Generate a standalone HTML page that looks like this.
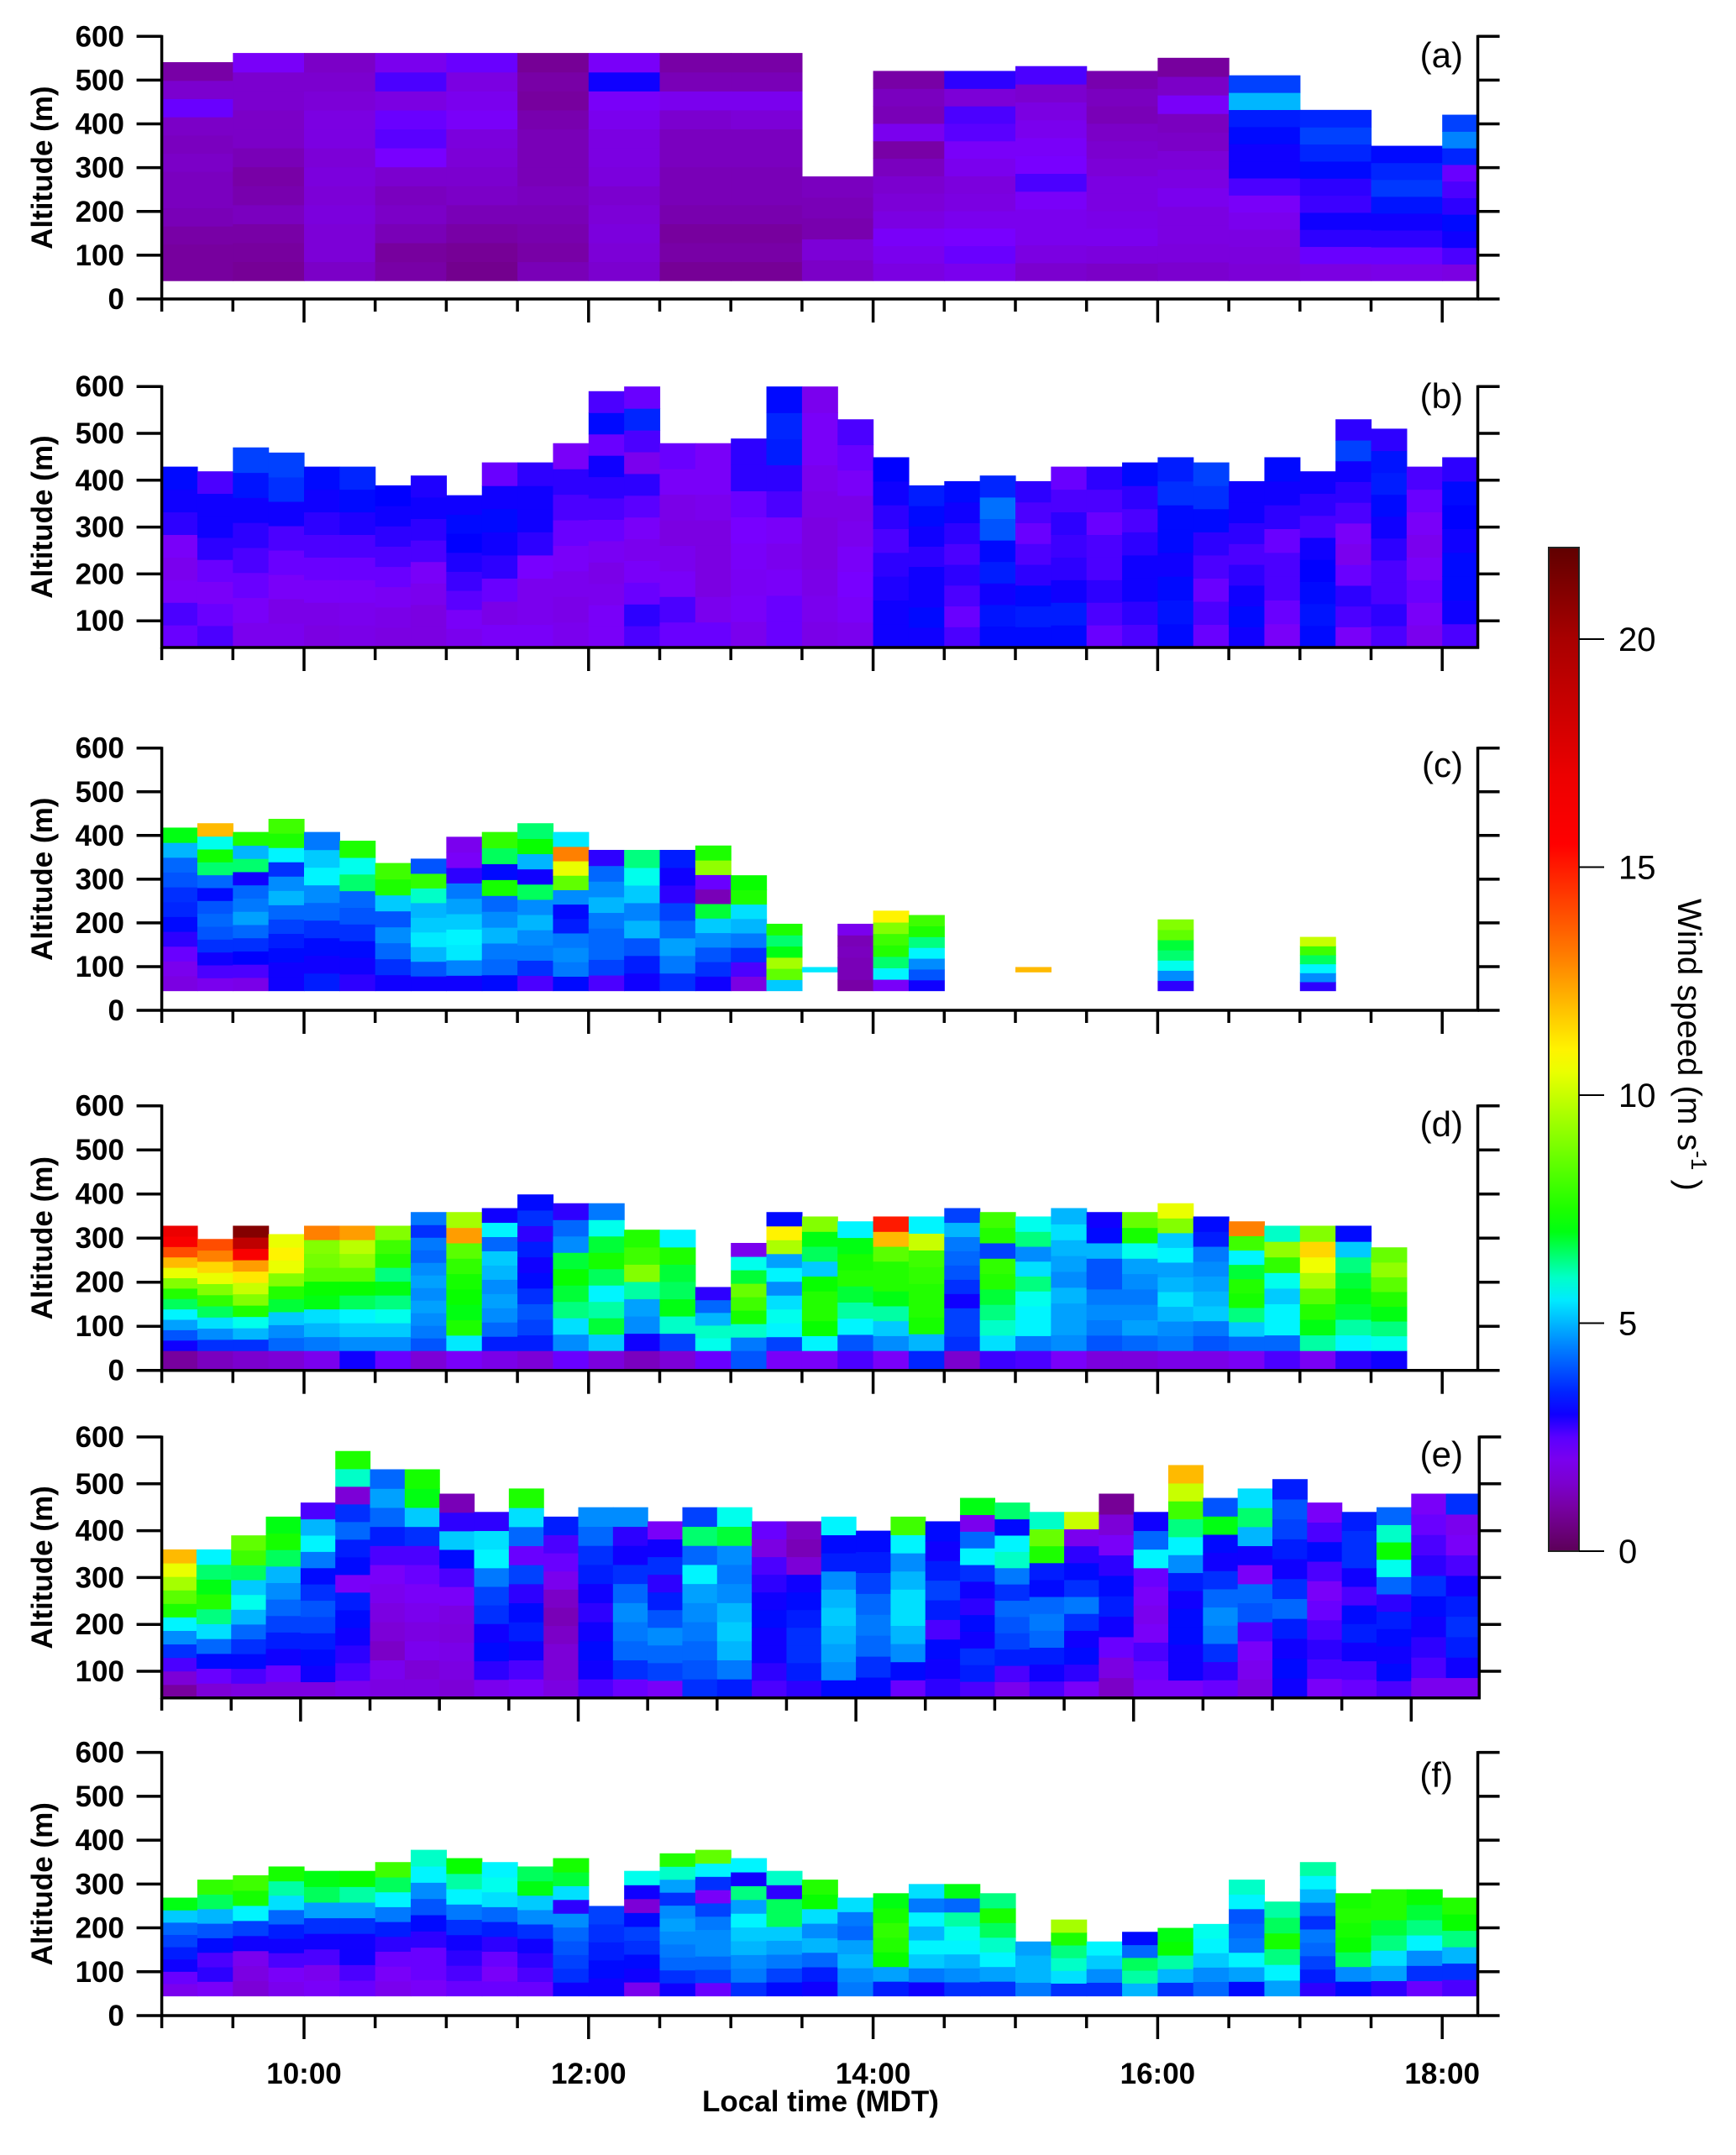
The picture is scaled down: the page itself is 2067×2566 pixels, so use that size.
<!DOCTYPE html>
<html><head><meta charset="utf-8"><title>Wind speed profiles</title>
<style>
html,body{margin:0;padding:0;background:#fff;}
svg{display:block;font-family:"Liberation Sans",Arial,sans-serif;}
</style></head>
<body>
<svg id="chart" xmlns="http://www.w3.org/2000/svg" width="2067" height="2566" viewBox="0 0 2067 2566">
<defs><linearGradient id="cbgrad" x1="0" y1="1" x2="0" y2="0"></linearGradient></defs>
</svg>
<script>
// ---------- DATA ----------
const altTicks = [0,100,200,300,400,500,600];
const timeTickLabels = ["10:00","12:00","14:00","16:00","18:00"];
const colorbarTicks = [0,5,10,15,20];

// Panel (a): 30-min columns from 9:00
const aTops = [541,562,562,562,562,562,562,562,562,280,521,521,532,521,551,511,432,350,421];
const aVals = [
[0.9,0.9,1.0,1.2,1.3,1.3,1.4,1.3,1.4,2.4,1.5,1.0],[0.8,0.9,1.0,1.3,1.1,1.0,1.2,1.4,1.4,1.5,1.5,2.2],
[1.4,1.6,1.6,1.7,1.6,1.7,1.6,1.8,1.8,1.6,1.5,1.4],[1.0,0.9,1.2,1.4,1.3,1.5,2.3,2.5,2.4,1.8,2.6,2.0],
[0.7,0.8,1.0,1.2,1.4,1.5,1.6,1.7,2.2,2.0,1.8,2.4],[1.2,1.0,1.1,1.2,1.3,1.2,1.2,1.2,1.1,0.9,1.0,0.8],
[1.5,1.6,1.7,1.6,1.5,1.7,1.8,1.8,2.0,2.2,3.0,2.2],[0.8,1.0,0.9,1.1,1.2,1.2,1.3,1.3,1.5,2.0,1.2,1.0],
[0.8,1.0,0.9,1.1,1.2,1.2,1.3,1.3,1.6,2.0,1.2,1.0],[1.4,1.6,1.1,1.2,1.3],
[1.8,2.0,2.2,1.8,1.6,1.5,1.3,1.0,2.0,1.2,1.3,1.0],[2.0,2.4,2.3,2.0,1.8,1.7,2.0,2.2,2.5,2.6,1.6,2.8],
[1.5,1.8,2.0,2.0,2.2,2.6,2.3,2.2,2.0,1.8,1.5,2.6],[1.4,1.7,2.0,1.9,1.8,1.8,1.6,1.5,1.4,1.2,1.3,1.1],
[1.5,1.7,1.8,1.8,2.0,1.8,1.6,1.4,1.3,2.2,1.4,0.9],[1.6,1.7,1.8,2.0,2.2,2.6,3.0,3.0,3.2,3.4,5.0,3.8],
[1.8,2.4,2.8,3.0,2.7,2.8,3.2,3.5,3.8,3.5],[1.9,2.4,2.8,3.0,3.3,3.7,3.5,3.2],
[1.8,2.6,3.0,3.2,2.8,2.6,2.4,3.5,4.5,3.8]];

// Panel (b): 15-min columns from 9:00
const bTops = [429,419,470,459,429,429,389,410,368,438,438,479,590,600,479,479,489,600,600,530,449,389,398,410,398,429,429,438,449,438,398,449,419,530,510,429,449];
const bVals = [
[2.4,2.6,2.2,2.0,2.2,2.8,3.0,3.2],[2.6,2.4,2.2,2.4,2.8,3.0,3.0,2.6],[2.0,2.2,2.4,2.6,2.8,3.0,3.3,3.8],
[2.0,1.9,2.2,2.4,2.6,3.0,3.6,3.8],[1.8,1.9,2.2,2.4,2.6,2.8,3.0,3.2],[1.9,2.0,2.2,2.4,2.6,2.9,3.2,3.5],
[1.8,1.9,2.1,2.4,2.6,2.8,3.0,3.1],[1.8,1.8,2.0,2.2,2.6,2.8,3.0,2.9],[2.0,2.2,2.5,2.7,2.9,3.1,3.2,3.0],
[2.2,1.9,2.4,2.8,3.0,3.2,3.0,2.4],[2.2,2.0,2.0,2.3,2.8,3.0,3.0,2.8],[2.0,1.9,2.0,2.2,2.4,2.6,2.8,2.2],
[2.2,2.2,2.0,1.9,2.1,2.4,2.6,2.8,3.0,2.4,3.2,2.6],[2.6,2.8,2.4,2.2,2.0,2.2,2.5,2.8,2.0,2.6,3.5,2.4],
[2.4,2.6,2.2,2.0,1.8,1.9,2.2,2.4],[2.4,2.0,1.8,1.8,1.8,2.0,2.2,2.2],[2.0,2.2,2.1,2.2,2.3,2.4,2.8,2.8],
[2.4,2.4,2.2,2.0,2.2,2.6,2.8,3.4,3.5,3.2],[1.9,2.0,1.9,1.8,1.8,1.9,2.0,2.2,2.2,2.0],
[2.0,2.2,2.3,2.2,2.0,1.9,2.2,2.4,2.6],[3.0,3.0,2.9,2.8,2.6,2.8,3.0,3.1],[3.0,3.2,3.0,3.0,2.8,3.0,3.2,3.4],
[2.6,2.4,2.6,2.8,2.6,2.8,3.0,3.2],[3.2,3.3,3.0,3.4,3.2,4.0,4.3,3.5],[3.2,3.4,3.2,2.8,2.6,2.4,2.6,2.8],
[3.2,3.4,3.0,2.8,2.7,2.8,2.6,2.4],[2.4,2.6,2.8,2.6,2.6,2.4,2.6,2.8],[2.6,2.8,3.0,3.0,2.8,2.6,2.8,3.2],
[3.2,3.3,3.2,3.0,3.2,3.2,3.6,3.4],[2.4,2.6,2.4,2.6,2.8,3.2,3.6,3.8],[3.0,3.2,3.0,2.8,2.6,2.8,3.0,3.0],
[2.2,2.4,2.6,2.6,2.4,2.8,3.0,3.2],[3.2,3.3,3.2,3.1,3.0,2.6,2.8,3.0],[2.2,2.6,2.8,2.4,2.0,2.2,2.6,2.8,3.0,3.8,2.8],
[2.6,2.8,2.6,2.6,2.8,3.0,3.2,3.4,3.3,2.8],[2.0,2.2,2.4,2.2,2.0,2.2,2.4,2.6],[2.6,3.0,3.2,3.2,3.0,3.1,3.2,2.8]];

// Panel (c): 15-min column indices (sparse), bottoms and tops
const cIdx = [0,1,2,3,4,5,6,7,8,9,10,11,12,13,14,15,16,17,18,19,20,21,24,28,32];
const cBottoms = [45,45,45,45,45,45,45,45,45,45,45,45,45,45,45,45,45,45,88,45,45,45,88,45,45];
const cTops = [418,428,408,438,408,388,337,347,397,408,428,408,367,367,367,377,309,198,99,198,228,218,99,208,168];
const cVals = [
[1.8,2.0,2.4,2.8,3.2,3.5,3.6,4.0,4.2,5.0,7.0],[2.0,2.6,3.0,3.6,4.0,4.2,4.0,3.2,4.2,6.5,7.3,5.8,12],
[1.9,2.6,3.1,3.6,4.2,4.8,4.4,4.2,3.0,6.5,5.0,7.5],[3.0,3.0,3.2,3.4,3.8,4.2,5.0,4.6,3.6,5.6,7.5,8.0],
[3.4,3.0,3.2,3.6,4.2,4.6,5.6,5.2,4.4],[2.8,3.0,3.2,3.6,4.0,4.2,6.5,5.8,7.5],
[3.0,3.6,4.2,4.6,4.0,5.2,7.5,8.0],[3.0,4.0,5.0,5.5,5.2,5.0,6.0,7.8,4.0],
[3.0,4.5,5.5,5.6,5.2,4.8,4.4,2.8,2.2,2.0],[3.2,4.2,4.4,5.0,4.6,4.2,7.4,3.2,6.6,7.8],
[2.6,3.6,4.4,4.6,5.0,4.6,6.6,3.0,5.0,7.2,6.5],[3.2,4.4,4.6,4.4,3.4,3.2,4.6,8.5,10.5,13,5.5],
[2.6,3.8,4.2,4.2,4.4,5.0,4.6,4.2,2.8],[3.0,3.4,4.0,5.0,4.5,5.2,5.8,6.4],
[3.6,4.4,4.8,4.2,3.8,2.8,3.0,3.4],[3.0,3.6,4.0,4.6,5.2,6.8,1.2,2.4,9.2,7.5],
[1.8,2.6,3.6,4.4,5.0,5.4,7.5,7.2],[5.2,8.5,9.5,7.0,6.5,7.5],[5.5],[1.0,1.2,1.2,1.3,1.2,2.0],
[2.2,5.6,6.5,7.6,8.0,9.0,11.0],[3.0,4.0,4.6,5.6,6.4,7.5,8.0],[12],
[2.8,4.6,5.8,6.5,6.8,8.5,9.0],[2.8,4.6,5.6,6.6,8.0,10.0]];

// Panel (d): 15-min columns, near-ground band (0-45 m) and profile above
const dBase = [0.9,1.3,1.5,1.6,2.0,3.0,2.4,1.6,2.2,1.9,1.6,2.4,1.7,1.3,1.6,2.4,4.0,2.2,2.2,2.6,2.2,3.5,1.5,2.7,2.6,2.2,1.7,1.7,1.9,1.9,2.1,2.6,2.1,2.8,3.0];
const dTops = [328,298,328,309,328,328,328,359,359,368,399,379,379,319,319,189,289,359,349,338,349,349,368,359,349,368,359,359,379,349,338,328,328,328,279];
const dVals = [
[3.0,4.0,4.8,5.6,6.6,7.6,9.0,10.5,12,14,16,17],[3.6,4.6,5.4,6.6,7.8,9.0,10.5,11.5,13,14],
[3.6,5.0,5.8,7.5,9.0,10.0,11.2,12.5,16,19,21],[4.2,4.6,5.2,6.8,7.6,9.0,10.5,11,10.5],
[4.4,5.0,5.4,7.0,7.2,8.4,8.8,9.0,13],[4.6,5.2,5.6,6.6,7.2,8.4,9.2,9.8,12.5],
[4.6,5.2,5.8,6.4,7.0,6.4,7.6,8.0,9.0],[4.0,4.4,4.6,4.8,4.6,4.8,4.6,4.2,4.4,3.6,4.4],
[5.5,7.5,7.0,7.2,7.4,7.8,8.4,12.5,9.5],[3.4,4.2,4.6,4.8,4.6,5.0,5.2,4.2,5.6,3.0],
[3.4,3.8,4.0,3.6,3.2,3.0,3.4,2.8,3.6,3.2],[4.6,5.4,6.4,6.8,7.2,6.8,4.6,4.2,2.8],
[5.2,6.8,6.2,5.6,6.6,7.4,6.8,5.8,4.4],[3.0,4.6,4.8,6.2,9.0,8.0,7.6],[3.8,6.0,7.0,6.6,6.8,7.5,5.6],
[5.8,6.0,5.0,4.2,2.8],[4.4,6.0,7.4,8.0,8.6,6.8,5.8,2.0],[3.8,5.6,5.8,5.4,4.6,5.6,4.8,9.6,11,3.2],
[5.6,7.2,7.6,7.6,7.2,5.2,6.6,7.0,9.0],[4.0,5.6,6.2,6.8,7.6,7.4,7.0,5.6],
[4.6,5.2,6.2,7.0,7.6,7.6,8.4,12,15],[5.0,7.4,7.6,7.6,7.8,8.0,10,5.6],
[3.6,3.8,3.8,3.0,3.6,4.0,4.2,4.4,5.0,3.8],[5.4,6.0,6.4,6.8,7.6,7.8,3.8,7.6,8.0],
[4.4,5.6,5.6,5.8,6.4,5.4,4.6,6.4,5.8],[4.6,4.8,4.8,5.0,4.6,4.8,5.0,5.4,5.0],
[4.0,4.4,4.6,4.4,4.0,4.0,5.0,3.2,3.0],[4.2,4.8,4.6,4.4,4.6,4.8,5.8,7.4,8.6],
[4.4,4.6,5.0,5.4,5.0,4.8,5.6,5.2,9.0,10.5],[4.0,4.4,5.2,5.0,4.8,4.6,4.4,3.4,3.2],
[4.2,5.2,6.4,7.4,7.6,6.8,5.6,8.0,13],[4.2,5.6,5.6,5.2,5.8,7.8,9.2,6.0],
[6.2,7.0,7.6,8.4,9.6,10.6,11.5,9.0],[5.6,6.2,6.8,7.0,6.8,6.4,5.2,3.2],[5.8,6.4,7.0,7.6,8.4,9.2,8.6]];

// Panel (e): 15-min columns from 9:00 (own time axis)
const eTops = [360,360,390,430,460,570,531,531,479,440,490,430,450,450,420,450,450,420,420,430,400,430,420,470,460,440,440,479,440,540,470,490,510,460,440,450,479,479];
const eVals = [
[0.9,1.6,2.6,3.6,4.6,5.6,7.5,8.4,9.5,10.5,12],[1.6,2.4,3.2,4.2,5.4,6.4,7.6,7.0,6.5,5.6],
[1.8,2.6,3.2,3.6,4.2,5.0,5.8,5.2,6.6,8.0,8.5],[1.8,2.4,3.0,3.4,3.8,4.2,4.6,5.0,6.6,7.4,7.0],
[1.8,3.0,3.2,3.4,3.8,4.0,3.6,3.2,4.4,5.6,5.0,2.6],[2.0,2.6,2.8,3.0,3.2,3.4,2.2,3.2,3.4,4.2,3.6,1.6,6.0,7.5],
[1.8,2.0,1.4,1.6,1.8,2.0,2.2,2.6,3.4,4.2,4.8,4.2],[1.8,1.6,2.0,1.8,2.0,2.2,2.4,2.6,3.6,5.2,7.0,7.4],
[1.6,1.8,1.9,1.7,1.8,2.2,2.6,3.2,5.2,2.8,1.2],[2.0,2.8,3.2,3.0,3.6,3.8,4.4,5.6,5.4,2.8],
[2.2,2.6,3.0,3.4,3.2,2.8,3.8,2.4,4.2,5.4,7.5],[1.8,1.6,1.6,1.4,1.2,1.4,2.0,2.4,2.6,3.4],
[2.6,3.0,3.2,3.0,2.8,3.0,3.4,3.6,4.2,4.6],[2.4,3.6,4.2,4.4,4.6,4.2,3.6,3.0,2.8,4.6],
[2.2,3.8,4.2,4.6,4.0,3.4,2.8,3.6,3.0,2.2],[3.6,4.0,4.2,4.4,4.6,4.8,5.6,4.2,6.5,3.8],
[3.4,4.4,5.0,5.2,5.0,4.6,4.4,4.6,6.8,5.8],[2.6,2.8,3.0,3.0,3.2,3.0,2.8,2.6,1.8,2.4],
[2.8,3.4,3.6,3.6,3.4,3.2,3.0,1.6,1.2,1.4],[3.2,4.6,4.8,5.0,5.2,5.0,4.6,3.4,3.2,5.6],
[3.2,3.6,4.2,4.4,4.2,3.8,3.4,3.2],[2.4,3.2,4.6,5.0,5.4,5.4,5.0,4.6,5.6,8.0],
[2.8,3.0,3.2,2.6,3.4,3.8,3.4,3.0,3.2],[2.6,3.4,3.6,3.0,3.2,2.8,3.0,3.6,5.6,4.2,2.0,7.0],
[2.0,2.6,3.4,3.8,4.0,4.2,3.6,4.4,6.0,5.6,3.2,6.5],[2.6,3.0,3.4,4.2,4.4,4.2,3.2,3.4,7.5,8.6,6.0],
[2.2,2.8,3.2,3.0,3.6,4.4,3.6,3.2,2.8,2.0,10.0],[1.4,1.8,2.4,3.0,3.4,3.2,2.8,2.2,1.6,0.8],
[2.2,2.4,2.6,2.2,2.0,2.2,2.4,5.6,4.2,3.0],[2.2,3.0,3.0,3.2,3.2,3.0,3.4,4.6,5.6,6.4,8.0,10.0,12.0],
[2.4,2.8,3.6,4.4,4.6,4.2,3.6,3.0,3.2,7.0,4.0],[1.8,2.0,2.2,2.6,4.0,4.2,2.2,3.0,5.0,6.5,5.4],
[3.0,3.2,3.0,3.4,4.2,3.6,3.0,3.4,3.8,4.0,3.4],[2.2,2.6,2.8,2.6,2.4,2.2,2.6,3.2,2.6,2.2],
[2.4,2.6,3.0,3.4,3.2,2.6,3.0,3.6,3.6,3.4],[2.6,3.2,3.0,3.2,3.4,2.8,4.2,5.8,7.2,6.0,4.2],
[2.0,2.6,2.8,3.0,3.2,3.6,2.8,2.6,2.4,2.2],[2.0,3.0,3.4,3.6,3.4,3.0,2.6,2.2,2.0,3.6]];

// Panel (f): 15-min columns from 9:00
const fTops = [269,310,320,340,330,330,350,378,359,350,340,359,250,330,370,378,359,330,310,269,279,300,300,279,169,219,169,191,200,209,310,260,350,279,288,288,269];
const fVals = [
[2.0,2.4,3.0,3.4,3.8,4.2,5.2,7.0],[2.2,2.8,2.6,3.2,4.0,5.0,6.6,7.8],[1.6,1.8,2.0,3.0,3.8,5.6,7.4,8.0],
[2.0,2.2,2.6,3.0,3.4,4.2,5.4,6.2,7.4],[2.2,2.0,2.6,3.0,3.6,4.8,6.6,7.0],[2.4,2.6,3.0,3.0,3.6,4.8,6.2,7.2],
[2.0,2.2,2.4,2.8,3.4,4.4,5.6,6.6,8.0],[2.2,2.4,2.4,2.8,3.2,4.0,4.6,5.6,6.0],[2.4,2.6,2.8,3.0,3.6,4.4,5.6,6.2,7.2],
[2.4,2.2,2.4,2.8,3.4,4.2,5.4,5.8,5.6],[2.4,2.6,2.8,3.0,3.6,4.6,5.2,7.0,6.6],[3.0,3.6,3.8,4.0,4.2,4.6,2.8,5.4,6.8,7.4],
[3.0,3.2,3.4,3.6,3.8],[2.0,3.0,3.2,3.6,3.8,3.2,1.6,3.0,5.8],[3.0,3.6,4.2,4.4,4.6,4.8,4.6,3.6,4.8,6.0,7.6],
[2.4,3.8,4.2,4.6,4.6,4.4,3.8,2.2,3.6,5.6,8.5],[3.6,4.4,4.6,5.0,5.2,5.6,4.8,6.4,3.0,5.6],
[3.2,3.8,4.4,4.8,5.2,6.6,6.6,2.8,6.0],[3.0,3.4,4.2,5.0,4.6,5.4,7.2,7.6],[4.4,4.6,5.0,4.8,4.2,4.4,5.4],
[3.4,4.8,7.2,7.6,7.8,7.4,7.0],[3.0,4.4,5.2,5.6,5.0,5.6,4.4,5.4],[3.6,4.6,5.0,5.6,5.8,6.2,4.2,7.0],
[3.6,4.8,5.6,6.0,6.6,7.4,6.4],[4.4,5.0,5.0,4.8],[3.6,5.4,6.0,6.4,7.5,9.5],[3.6,4.6,5.2,5.6],
[5.0,6.2,6.6,4.2,3.2],[3.6,5.0,6.2,7.2,7.0],[4.2,4.6,5.2,5.6,5.8],[3.2,4.8,5.6,4.4,4.2,4.0,5.6,6.0],
[4.8,5.6,6.4,7.4,6.6,6.2],[2.8,3.4,3.8,4.2,4.4,3.6,4.2,5.0,5.6,6.2],[3.2,4.6,6.6,7.2,7.4,7.6,7.4],
[2.8,4.8,5.4,6.4,6.8,7.6,7.6],[2.4,3.6,4.6,5.6,6.4,6.8,7.2],[2.6,3.6,5.0,6.4,7.2,7.6]];

// ---------- COLORMAP ----------
const cmStops = [[0,[92,0,88]],[0.8,[118,0,150]],[1.6,[124,0,215]],[2.3,[120,0,255]],[3.1,[0,0,255]],[4.6,[0,140,255]],
 [5.7,[0,255,255]],[7.1,[0,255,0]],[10.8,[255,255,0]],[13,[255,128,0]],[15.5,[255,0,0]],[16.8,[240,0,0]],[20,[168,0,0]],[22,[96,0,0]]];
function cmap(v){
  if(v<=cmStops[0][0]) return rgb(cmStops[0][1]);
  for(let i=1;i<cmStops.length;i++){
    if(v<=cmStops[i][0]){
      const a=cmStops[i-1],b=cmStops[i],t=(v-a[0])/(b[0]-a[0]);
      return rgb(a[1].map((c,k)=>c+(b[1][k]-c)*t));
    }
  }
  return rgb(cmStops[cmStops.length-1][1]);
}
function rgb(c){return 'rgb('+c.map(x=>Math.round(x)).join(',')+')';}

// ---------- DRAWING ----------
const NS='http://www.w3.org/2000/svg';
const svg=document.getElementById('chart');
function mk(tag,attrs,parent){const e=document.createElementNS(NS,tag);for(const k in attrs)e.setAttribute(k,attrs[k]);(parent||svg).appendChild(e);return e;}

const panels=[
 {id:'a',y0:356,k:0.5212,axisAlt:0,t0:192.6,ph:169.4,tEnd:18.25,label:'(a)',lx:1742,ly:80,minTick:0},
 {id:'b',y0:795,k:0.558,axisAlt:43,t0:192.6,ph:169.4,tEnd:18.25,label:'(b)',lx:1742,ly:486,minTick:100},
 {id:'c',y0:1203,k:0.5205,axisAlt:0,t0:192.6,ph:169.4,tEnd:18.25,label:'(c)',lx:1742,ly:925,minTick:0},
 {id:'d',y0:1631.7,k:0.525,axisAlt:0,t0:192.6,ph:169.4,tEnd:18.25,label:'(d)',lx:1742,ly:1353,minTick:0},
 {id:'e',y0:2045.8,k:0.558,axisAlt:43,t0:192.6,ph:165.3,tEnd:18.49,label:'(e)',lx:1742,ly:1746,minTick:100},
 {id:'f',y0:2400,k:0.5222,axisAlt:0,t0:192.6,ph:169.4,tEnd:18.25,label:'(f)',lx:1730,ly:2128,minTick:0}
];
function Y(p,alt){return p.y0-alt*p.k;}
function X(p,h){return p.t0+(h-9)*p.ph;}

function drawColumn(g,p,h0,h1,bottom,top,vals,name){
  const n=vals.length, step=(top-bottom)/n;
  const x0=X(p,h0), x1=Math.min(X(p,h1),X(p,p.tEnd));
  for(let i=0;i<n;i++){
    const ya=Y(p,bottom+step*(i+1)), yb=Y(p,bottom+step*i);
    const r=mk('rect',{x:x0.toFixed(2),y:ya.toFixed(2),width:(x1-x0+0.6).toFixed(2),height:(yb-ya+0.6).toFixed(2),fill:cmap(vals[i])},g);
    
    
  }
}

panels.forEach(p=>{
  const g=mk('g',{});
  
  
  const hg=mk('g',{},g);
  
  
  if(p.id==='a'){aTops.forEach((t,i)=>drawColumn(hg,p,9+i*0.5,9.5+i*0.5,42,t,aVals[i],'col-a'+i));}
  if(p.id==='b'){bTops.forEach((t,i)=>drawColumn(hg,p,9+i*0.25,9.25+i*0.25,43,t,bVals[i],'col-b'+i));}
  if(p.id==='c'){cIdx.forEach((ci,j)=>drawColumn(hg,p,9+ci*0.25,9.25+ci*0.25,cBottoms[j],cTops[j],cVals[j],'col-c'+ci));}
  if(p.id==='d'){dTops.forEach((t,i)=>{drawColumn(hg,p,9+i*0.25,9.25+i*0.25,0,45,[dBase[i]],'base-d'+i);drawColumn(hg,p,9+i*0.25,9.25+i*0.25,45,t,dVals[i],'col-d'+i);});}
  if(p.id==='e'){eTops.forEach((t,i)=>drawColumn(hg,p,9+i*0.25,9.25+i*0.25,43,t,eVals[i],'col-e'+i));}
  if(p.id==='f'){fTops.forEach((t,i)=>drawColumn(hg,p,9+i*0.25,9.25+i*0.25,45,t,fVals[i],'col-f'+i));}

  const yTop=Y(p,600), yBot=Y(p,p.axisAlt), xL=X(p,9), xR=X(p,p.tEnd);
  const ax=mk('g',{stroke:'#000','stroke-width':3.5,fill:'none'},g);
  
  
  mk('line',{x1:xL,y1:yTop-1.5,x2:xL,y2:yBot+1.5},ax);
  mk('line',{x1:xR,y1:yTop-1.5,x2:xR,y2:yBot+1.5},ax);
  mk('line',{x1:xL-1.5,y1:yBot,x2:xR+1.5,y2:yBot},ax);
  altTicks.forEach(v=>{
    if(v<p.minTick) return;
    const y=Y(p,v);
    mk('line',{x1:xL-30,y1:y,x2:xL,y2:y},ax);
    mk('line',{x1:xR,y1:y,x2:xR+26,y2:y},ax);
    const t=mk('text',{x:148,y:y+12,'text-anchor':'end','font-size':35,'font-weight':'bold',fill:'#000',stroke:'none'},g);
    t.textContent=v;
    
    
  });
  for(let h=9;h<=p.tEnd+0.001;h+=0.5){
    const x=X(p,h), major=(Math.abs(h-Math.round(h))<0.01 && Math.round(h)%2===0);
    mk('line',{x1:x,y1:yBot,x2:x,y2:yBot+(major?28:15)},ax);
  }
  const yl=mk('text',{x:0,y:0,transform:'translate(62,'+((yTop+yBot)/2)+') rotate(-90)','text-anchor':'middle','font-size':35,'font-weight':'bold',fill:'#000'},g);
  yl.textContent='Altitude (m)';
  
  
  const pl=mk('text',{x:p.lx,y:p.ly,'text-anchor':'end','font-size':42,fill:'#000'},g);
  pl.textContent=p.label;
  
  
});

const pf=panels[5];
timeTickLabels.forEach((s,i)=>{
  const t=mk('text',{x:X(pf,10+2*i),y:2481,'text-anchor':'middle','font-size':35,'font-weight':'bold',fill:'#000'});
  t.textContent=s;
  
  
});
const xt=mk('text',{x:977,y:2514,'text-anchor':'middle','font-size':35,'font-weight':'bold',fill:'#000','xml:space':'preserve'});
xt.textContent='Local  time (MDT)';



const cb={x:1844,w:36,yTop:652,y0:1847,k:54.3,max:22};
const grad=document.getElementById('cbgrad');
for(let i=0;i<=44;i++){const v=i*0.5;mk('stop',{offset:(v/cb.max).toFixed(4),'stop-color':cmap(v)},grad);}
const cbg=mk('g',{});


mk('rect',{x:cb.x,y:cb.yTop,width:cb.w,height:cb.y0-cb.yTop,fill:'url(#cbgrad)',stroke:'#222','stroke-width':2},cbg);
colorbarTicks.forEach(v=>{
  const y=cb.y0-v*cb.k;
  mk('line',{x1:cb.x+cb.w,y1:y,x2:cb.x+cb.w+30,y2:y,stroke:'#000','stroke-width':2},cbg);
  const t=mk('text',{x:1927,y:y+14,'font-size':40,fill:'#000'},cbg);
  t.textContent=v;
  
  
});
const ct=mk('text',{x:0,y:0,transform:'translate(1998,1244) rotate(90)','text-anchor':'middle','font-size':40,fill:'#000','xml:space':'preserve'},cbg);
ct.innerHTML='Wind  speed (m s<tspan dy="-16" font-size="26">-1</tspan><tspan dy="16"> )</tspan>';


</script>
</body></html>
